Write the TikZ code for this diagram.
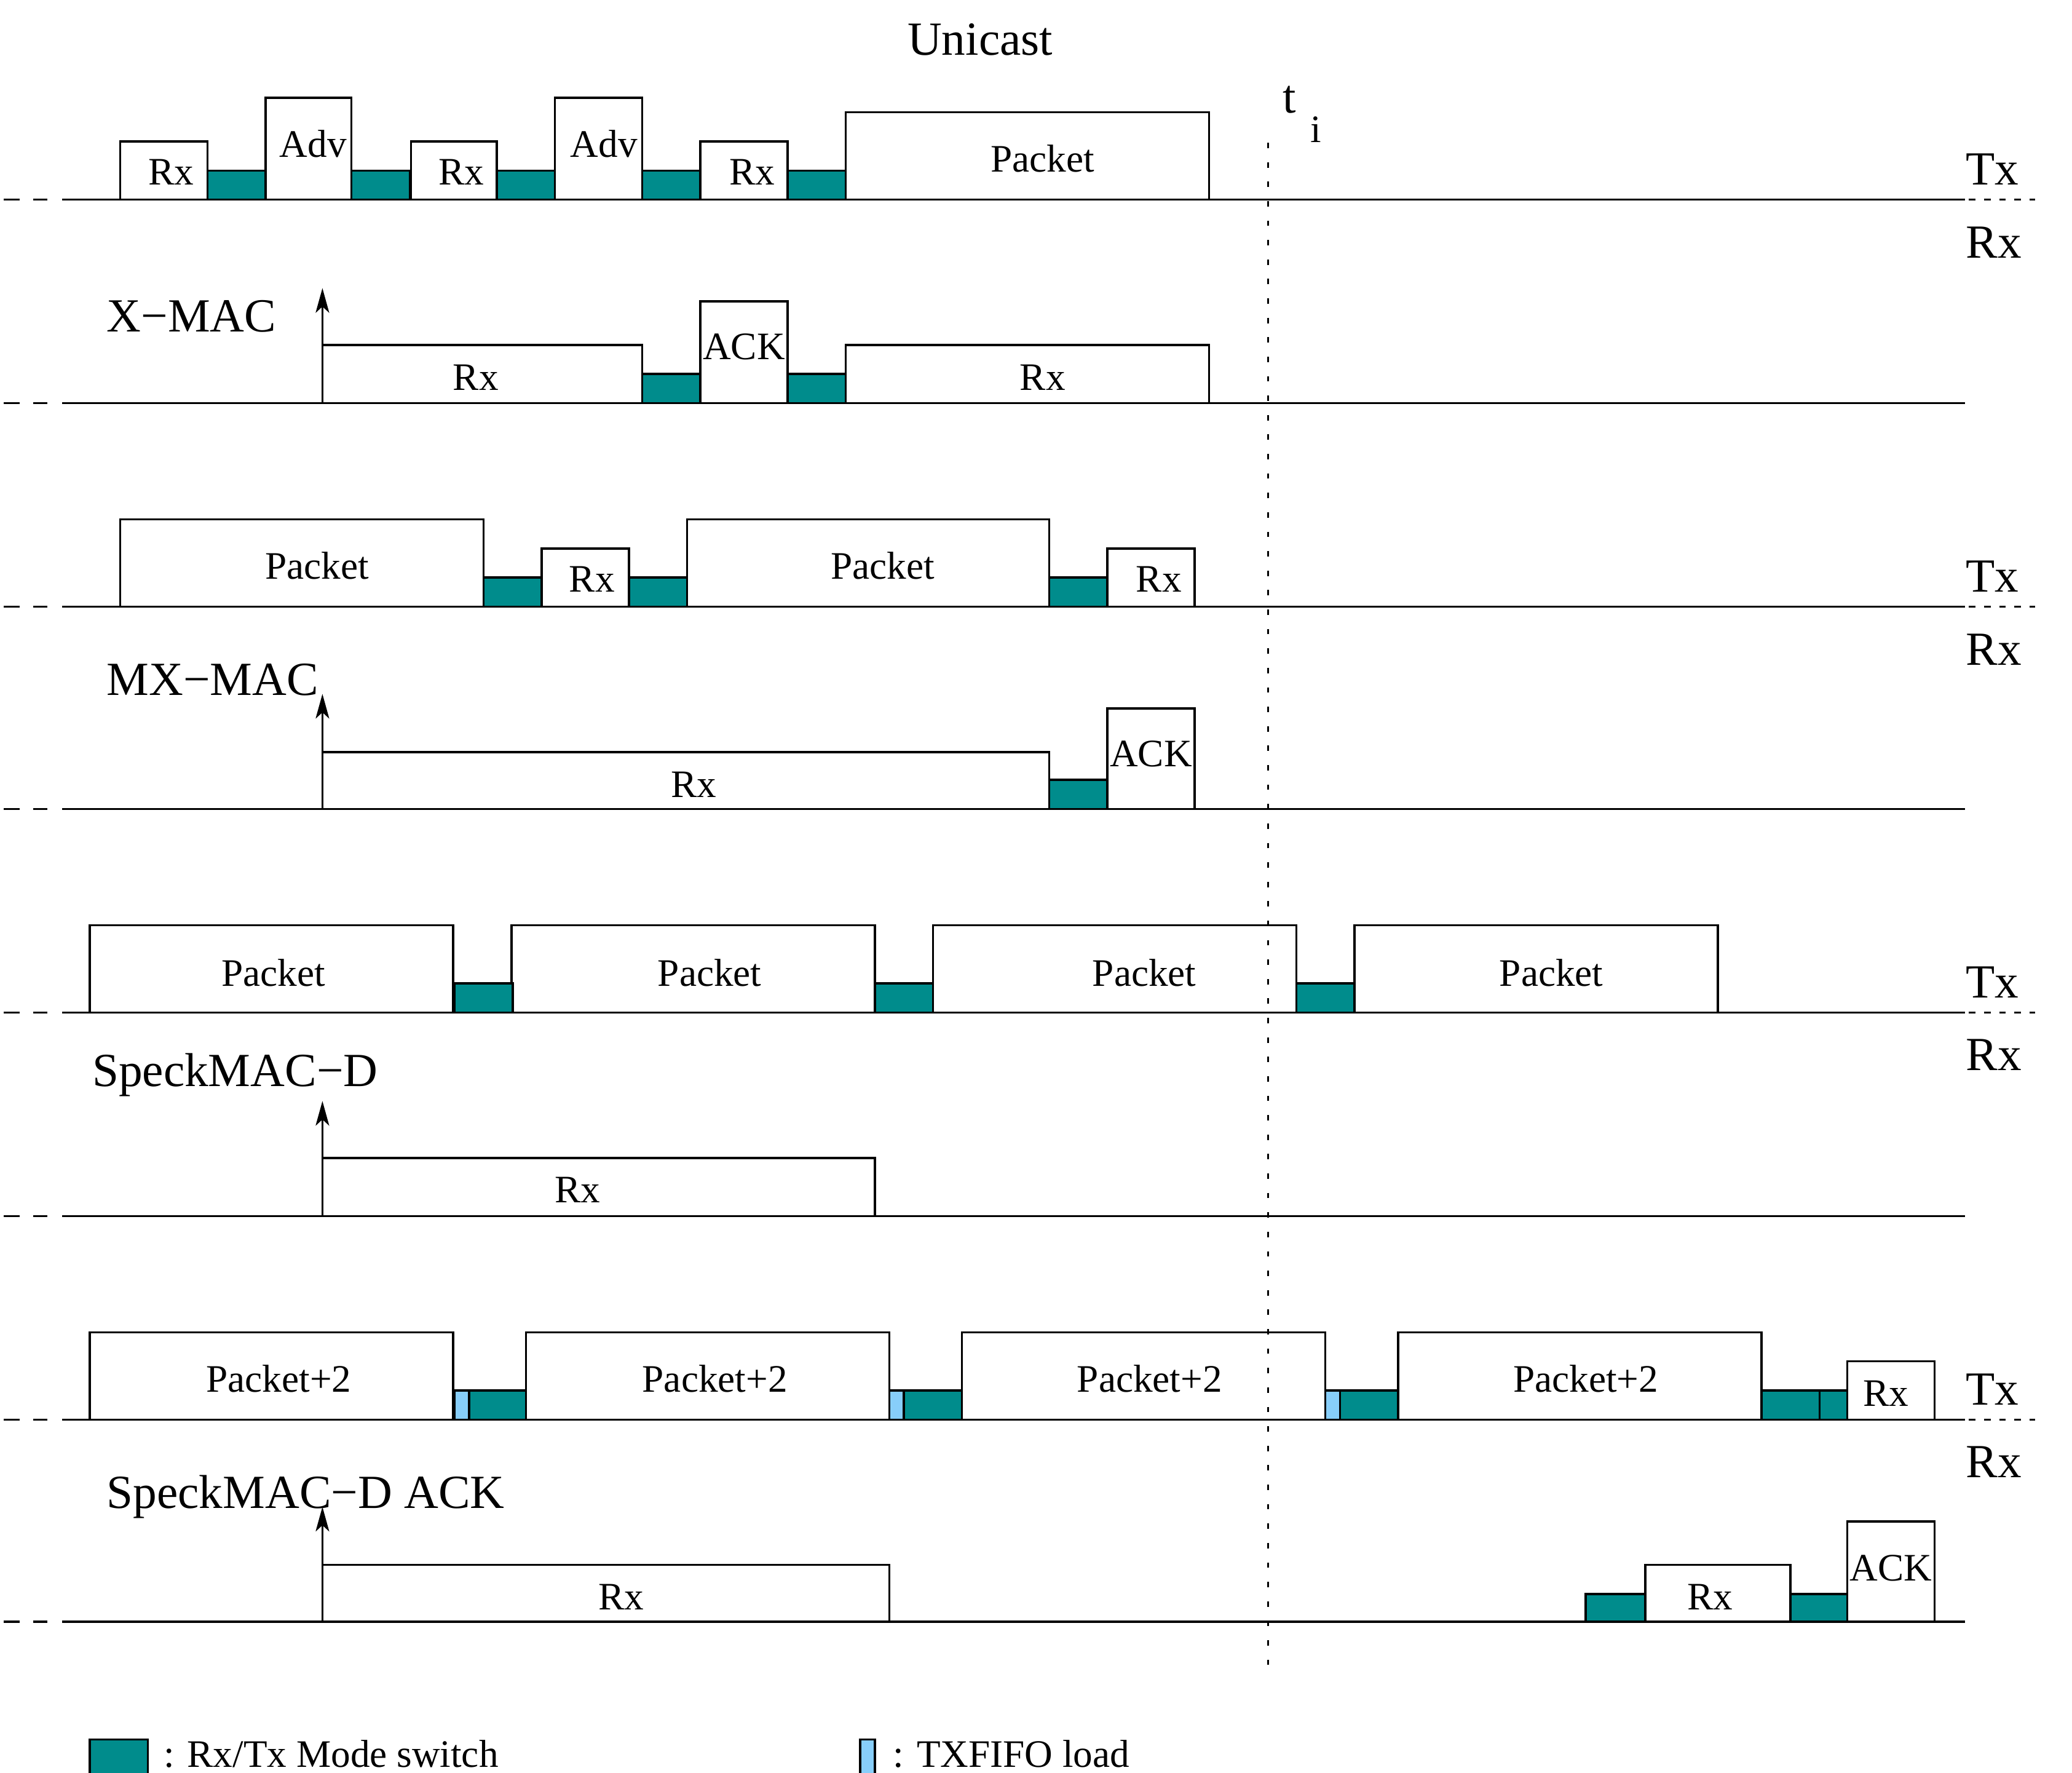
\documentclass[tikz,border=0pt]{standalone}
\usepackage{fontspec}
\setmainfont{Liberation Serif}
\usetikzlibrary{arrows.meta}
\definecolor{switchteal}{RGB}{0,140,140}
\definecolor{fifoblue}{RGB}{135,206,250}

\begin{document}
\begin{tikzpicture}[x=0.0215cm, y=-0.0215cm, line width=1pt,
    boxtext/.style={font=\fontsize{18}{20}\selectfont, anchor=base, inner sep=0pt},
    bigtext/.style={font=\fontsize{22}{24}\selectfont, anchor=base west, inner sep=0pt},
    switch/.style={fill=switchteal},
    fifo/.style={fill=fifoblue},
    wakeup/.style={-{Stealth[length=4mm, width=2.2mm, inset=1mm]}}]
    \useasboundingbox (0,0) rectangle (1568,1341);

    % time lines
    \foreach \b in {151,305,459,612,766,920,1074,1227} {
        \draw (3,\b) -- (15,\b);
        \draw (25,\b) -- (36,\b);
        \draw (47,\b) -- (1487,\b);
    }
    \foreach [count=\i] \b in {151,459,766,1074} {
        \draw[dash pattern=on 3pt off 4pt] (1490,\b) -- (1540,\b);
        \node[bigtext] (tx\i) at (1487,{\b-11}) {Tx};
        \node[bigtext] (rx\i) at (1487,{\b+44}) {Rx};
    }
    \foreach \b in {305,612,920,1227}
        \draw[wakeup] (244,\b) -- (244,{\b-87});

    % X-MAC
    \foreach [count=\i] \xa/\xb/\yt/\lx/\ly/\lab in {91/157/107/129.5/140/Rx, 201/266/74/237/119/Adv,
            311/376/107/349/140/Rx, 420/486/74/457/119/Adv, 530/596/107/569/140/Rx, 640/915/85/789/130/Packet} {
        \draw (\xa,151) rectangle (\xb,\yt);
        \node[boxtext] (xtx\i) at (\lx,\ly) {\lab};
    }
    \foreach \xa in {157,266,376,486,596}
        \draw[switch] (\xa,151) rectangle ++(44,-22);
    \foreach [count=\i] \xa/\xb/\yt/\lx/\ly/\lab in {244/486/261/360/295/Rx, 530/596/228/563/272/ACK, 640/915/261/789/295/Rx} {
        \draw (\xa,305) rectangle (\xb,\yt);
        \node[boxtext] (xrx\i) at (\lx,\ly) {\lab};
    }
    \foreach \xa in {486,596}
        \draw[switch] (\xa,305) rectangle ++(44,-22);

    % MX-MAC
    \foreach [count=\i] \xa/\xb/\yt/\lx/\ly/\lab in {91/366/393/240/438/Packet, 410/476/415/448/448/Rx,
            520/794/393/668/438/Packet, 838/904/415/877/448/Rx} {
        \draw (\xa,459) rectangle (\xb,\yt);
        \node[boxtext] (mtx\i) at (\lx,\ly) {\lab};
    }
    \foreach \xa in {366,476,794}
        \draw[switch] (\xa,459) rectangle ++(44,-22);
    \foreach [count=\i] \xa/\xb/\yt/\lx/\ly/\lab in {244/794/569/525/603/Rx, 838/904/536/871/580/ACK} {
        \draw (\xa,612) rectangle (\xb,\yt);
        \node[boxtext] (mrx\i) at (\lx,\ly) {\lab};
    }
    \draw[switch] (794,612) rectangle ++(44,-22);

    % SpeckMAC-D
    \foreach [count=\i] \xa/\lx in {68/207, 387/537, 706/866, 1025/1174} {
        \draw (\xa,766) rectangle ++(275,-66);
        \node[boxtext] (stx\i) at (\lx,746) {Packet};
    }
    \foreach \xa in {344,662,981}
        \draw[switch] (\xa,766) rectangle ++(44,-22);
    \draw (244,920) rectangle (662,876);
    \node[boxtext] (srx1) at (437,910) {Rx};

    % SpeckMAC-D ACK
    \foreach [count=\i] \xa/\lx in {68/211, 398/541, 728/870, 1058/1200} {
        \draw (\xa,1074) rectangle ++(275,-66);
        \node[boxtext] (atx\i) at (\lx,1053) {Packet+2};
    }
    \foreach \xa in {344,673,1003}
        \draw[fifo] (\xa,1074) rectangle ++(11,-22);
    \foreach \xa/\xb in {355/398, 684/728, 1014/1058, 1333/1377, 1377/1398}
        \draw[switch] (\xa,1074) rectangle (\xb,1052);
    \draw (1398,1074) rectangle (1464,1030);
    \node[boxtext] (atx5) at (1427,1064) {Rx};
    \foreach [count=\i] \xa/\xb/\yt/\lx/\ly/\lab in {244/673/1184/470/1218/Rx, 1245/1355/1184/1294/1218/Rx, 1398/1464/1151/1431/1196/ACK} {
        \draw (\xa,1227) rectangle (\xb,\yt);
        \node[boxtext] (arx\i) at (\lx,\ly) {\lab};
    }
    \foreach \xa/\xb in {1200/1245, 1355/1398}
        \draw[switch] (\xa,1227) rectangle (\xb,1206);

    % labels
    \node[bigtext] (unicast) at (686,41.5) {Unicast};
    \node[bigtext] (t) at (970,85.6) {t};
    \node[boxtext, anchor=base west] (i) at (991,107.6) {i};
    \draw[line width=0.8pt, dash pattern=on 2.5pt off 6.5pt] (959.5,108) -- (959.5,1269);
    \node[bigtext] (xmac) at (80,251) {X−MAC};
    \node[bigtext] (mxmac) at (80,526) {MX−MAC};
    \node[bigtext] (speck) at (69,822) {SpeckMAC−D};
    \node[bigtext] (speckack) at (80,1141) {SpeckMAC−D ACK};

    % legend
    \draw[switch] (68,1316) rectangle (112,1350);
    \node[boxtext, anchor=base west] (leg1) at (123,1337) {: Rx/Tx Mode switch};
    \draw[fifo] (651,1316) rectangle (662,1350);
    \node[boxtext, anchor=base west] (leg2) at (675,1337) {: TXFIFO load};
\end{tikzpicture}
\end{document}
